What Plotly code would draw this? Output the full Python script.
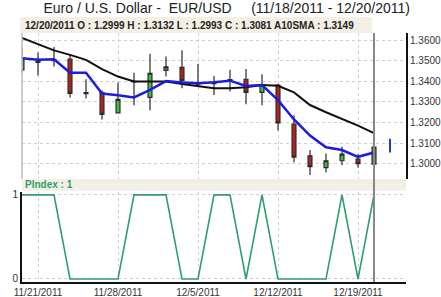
import plotly.graph_objects as go

dates = ["11/18/2011", "11/21/2011", "11/22/2011", "11/23/2011", "11/24/2011", "11/25/2011",
         "11/28/2011", "11/29/2011", "11/30/2011", "12/1/2011", "12/2/2011",
         "12/5/2011", "12/6/2011", "12/7/2011", "12/8/2011", "12/9/2011",
         "12/12/2011", "12/13/2011", "12/14/2011", "12/15/2011", "12/16/2011",
         "12/19/2011", "12/20/2011"]
opens = [1.3455, 1.3498, 1.3505, 1.3507, 1.3345, 1.3345, 1.3247, 1.3400, 1.3322, 1.3453, 1.3467,
         1.3390, 1.3392, 1.3405, 1.3410, 1.3346, 1.3382, 1.3192, 1.3039, 1.2982, 1.3015, 1.3023, 1.2999]
highs = [1.3560, 1.3540, 1.3566, 1.3528, 1.3410, 1.3355, 1.3394, 1.3442, 1.3533, 1.3520, 1.3550,
         1.3484, 1.3426, 1.3456, 1.3459, 1.3434, 1.3387, 1.3236, 1.3067, 1.3050, 1.3083, 1.3047, 1.3132]
lows = [1.3440, 1.3428, 1.3472, 1.3322, 1.3317, 1.3215, 1.3244, 1.3284, 1.3260, 1.3423, 1.3366,
        1.3374, 1.3333, 1.3350, 1.3289, 1.3284, 1.3162, 1.3008, 1.2946, 1.2958, 1.2995, 1.2982, 1.2993]
closes = [1.3510, 1.3492, 1.3500, 1.3341, 1.3340, 1.3240, 1.3312, 1.3397, 1.3439, 1.3470, 1.3403,
          1.3386, 1.3388, 1.3408, 1.3346, 1.3382, 1.3199, 1.3033, 1.2987, 1.3015, 1.3047, 1.3001, 1.3081]
sma10 = [1.3610, 1.3580, 1.3550, 1.3528, 1.3504, 1.3459, 1.3423, 1.3399, 1.3399, 1.3399, 1.3387,
         1.3377, 1.3366, 1.3366, 1.3371, 1.3382, 1.3378, 1.3346, 1.3285, 1.3250, 1.3218, 1.3185, 1.3149]
blue_avg = [1.3512, 1.3504, 1.3507, 1.3442, 1.3442, 1.3341, 1.3332, 1.3322, 1.3358, 1.3401, 1.3394,
            1.3390, 1.3395, 1.3403, 1.3377, 1.3382, 1.3309, 1.3215, 1.3137, 1.3080, 1.3067, 1.3034, 1.3055]
pindex = [1, 1, 1, 0, 0, 0, 0, 1, 1, 1, 0, 0, 1, 1, 0, 1, 0, 0, 0, 0, 1, 0, 1]
next_range = [1.3055, 1.3122]
price_ticks = [1.30, 1.31, 1.32, 1.33, 1.34, 1.35, 1.36]
week_labels = ["11/21/2011", "11/28/2011", "12/5/2011", "12/12/2011", "12/19/2011"]

x = list(range(len(dates)))
tickvals = [dates.index(d) for d in week_labels]
last = x[-1]

FONT = "Liberation Sans, Arial, sans-serif"
BEIGE = "#f4efe5"
GRID = "#cfcfcf"

fig = go.Figure()
fig.add_trace(go.Candlestick(
    x=x, open=opens, high=highs, low=lows, close=closes,
    increasing=dict(line=dict(color="#2b2b2b", width=1.2), fillcolor="#3fbf3f"),
    decreasing=dict(line=dict(color="#2b2b2b", width=1.2), fillcolor="#b52020"),
    whiskerwidth=0, showlegend=False, xaxis="x", yaxis="y", hoverinfo="skip"))
fig.add_trace(go.Scatter(x=x, y=sma10, mode="lines", line=dict(color="#111111", width=2),
                         showlegend=False, xaxis="x", yaxis="y"))
fig.add_trace(go.Scatter(x=x, y=blue_avg, mode="lines", line=dict(color="#1c1ce0", width=2.5),
                         showlegend=False, xaxis="x", yaxis="y"))
fig.add_trace(go.Scatter(x=[last + 1, last + 1], y=next_range, mode="lines",
                         line=dict(color="#2040c0", width=2), showlegend=False, xaxis="x", yaxis="y"))
fig.add_trace(go.Scatter(x=x, y=pindex, mode="lines", line=dict(color="#2f9e6e", width=1.6),
                         showlegend=False, xaxis="x2", yaxis="y2"))

xr = [0, 24]
fig.update_layout(
    template="none",
    width=441, height=297,
    margin=dict(l=22, r=35, t=33, b=15),
    paper_bgcolor="white", plot_bgcolor="white",
    font=dict(family=FONT, size=10, color="#333333"),
    boxgap=0.65,
    title=dict(text="Euro / U.S. Dollar -\u00a0 EUR/USD\u00a0\u00a0\u00a0\u00a0 (11/18/2011 - 12/20/2011)",
               x=0.514, xanchor="center", y=0.972, yanchor="middle", yref="container",
               font=dict(family=FONT, size=14, color="#222222")),
    xaxis=dict(domain=[0, 1], range=xr, anchor="y", showticklabels=False, ticks="",
               showgrid=True, gridcolor=GRID, griddash="dot", gridwidth=1, automargin=False,
               tickvals=tickvals, zeroline=False, rangeslider=dict(visible=False), showline=False),
    yaxis=dict(domain=[0.414, 1], range=[1.2927, 1.3634], side="right", anchor="x",
               tickvals=price_ticks, tickformat=".4f", ticks="", showgrid=True, gridcolor=GRID,
               griddash="dot", showline=True, linecolor="#111111", linewidth=2, zeroline=False,
               automargin=False, tickfont=dict(size=10, color="#333333")),
    xaxis2=dict(domain=[0, 1], range=xr, anchor="y2", tickvals=tickvals, ticktext=week_labels,
                showgrid=True, gridcolor=GRID, griddash="dot", ticks="", showline=True,
                linecolor="#111111", linewidth=2, zeroline=False, automargin=False,
                tickfont=dict(size=10, color="#333333")),
    yaxis2=dict(domain=[0, 0.362], range=[-0.0357, 1.0357], anchor="x2", tickvals=[0, 1],
                ticktext=["0", "1"], showgrid=True, gridcolor=GRID, griddash="dot", ticks="",
                showline=True, linecolor="#111111", linewidth=2, zeroline=False, automargin=False,
                tickfont=dict(size=10, color="#333333")),
    shapes=[
        dict(type="rect", xref="paper", yref="paper", x0=-0.005, x1=0.911, y0=1.0, y1=1.064,
             fillcolor=BEIGE, line=dict(width=0), layer="below"),
        dict(type="rect", xref="paper", yref="paper", x0=0, x1=1.0, y0=0.366, y1=0.414,
             fillcolor=BEIGE, line=dict(width=0), layer="below"),
        dict(type="line", xref="paper", yref="paper", x0=0, x1=0, y0=0.414, y1=1.0,
             line=dict(color="#bbbbbb", width=1.5)),
        dict(type="line", xref="x", yref="paper", x0=last, x1=last, y0=0, y1=1.0,
             line=dict(color="#888888", width=2)),
    ],
    annotations=[
        dict(xref="paper", yref="paper", x=0.003, y=1.032, xanchor="left", yanchor="middle",
             showarrow=False,
             text=f"<b>{dates[-1]} O : {opens[-1]:.4f} H : {highs[-1]:.4f} L : {lows[-1]:.4f} "
                  f"C : {closes[-1]:.4f} A10SMA : {sma10[-1]:.4f}</b>",
             font=dict(family=FONT, size=10, color="#222222")),
        dict(xref="paper", yref="paper", x=0.003, y=0.39, xanchor="left", yanchor="middle",
             showarrow=False, text=f"<b>PIndex : {pindex[-1]}</b>",
             font=dict(family=FONT, size=10, color="#2f9e6e")),
    ],
)
fig.write_html("out.html")
